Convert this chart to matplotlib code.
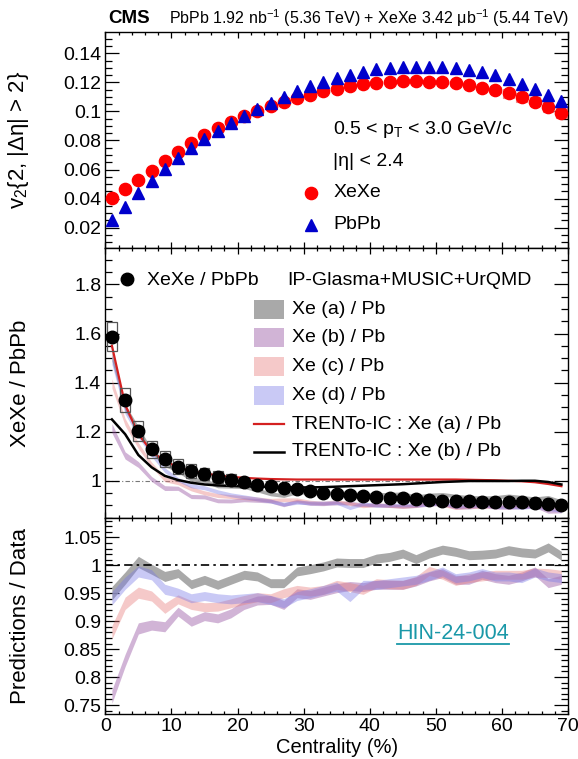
import matplotlib
matplotlib.use("Agg")
import matplotlib.pyplot as plt
import numpy as np
from matplotlib.patches import Rectangle
from matplotlib.ticker import MultipleLocator, FuncFormatter

plt.rcParams.update({
    "font.family": ["Liberation Sans", "DejaVu Sans"],
    "mathtext.fontset": "custom",
    "mathtext.rm": "Liberation Sans",
    "mathtext.it": "Liberation Sans",
    "mathtext.bf": "Liberation Sans:bold",
    "axes.unicode_minus": True,
})

# centrality bin centres (%)
cent = [1, 3, 5, 7, 9, 11, 13, 15, 17, 19, 21, 23, 25, 27, 29, 31, 33, 35,
        37, 39, 41, 43, 45, 47, 49, 51, 53, 55, 57, 59, 61, 63, 65, 67, 69]

# v2{2,|deta|>2}
v2_xexe = [0.0406, 0.0464, 0.0526, 0.0590, 0.0657, 0.0723, 0.0780, 0.0838,
           0.0888, 0.0930, 0.0969, 0.1003, 0.1037, 0.1065, 0.1090, 0.1115,
           0.1138, 0.1157, 0.1173, 0.1187, 0.1198, 0.1203, 0.1207, 0.1207,
           0.1205, 0.1203, 0.1193, 0.1180, 0.1164, 0.1148, 0.1125, 0.1097,
           0.1067, 0.1033, 0.0992]
v2_xexe_sys = [0.001, 0.001, 0.001, 0.001, 0.001, 0.001, 0.001, 0.001, 0.001,
               0.001, 0.001, 0.001, 0.001, 0.001, 0.001, 0.001, 0.001, 0.001,
               0.001, 0.001, 0.001, 0.001, 0.001, 0.001, 0.0015, 0.0015, 0.0015,
               0.002, 0.002, 0.002, 0.003, 0.003, 0.003, 0.0035, 0.0035]
v2_pbpb = [0.0253, 0.0340, 0.0437, 0.0521, 0.0601, 0.0677, 0.0746, 0.0808,
           0.0865, 0.0918, 0.0971, 0.1019, 0.1060, 0.1102, 0.1143, 0.1175,
           0.1205, 0.1230, 0.1251, 0.1274, 0.1290, 0.1299, 0.1304, 0.1308,
           0.1306, 0.1304, 0.1297, 0.1285, 0.1274, 0.1253, 0.1223, 0.1189,
           0.1152, 0.1115, 0.1072]

# XeXe / PbPb ratio
ratio = [1.587, 1.329, 1.202, 1.128, 1.090, 1.057, 1.041, 1.028, 1.015, 1.004,
         0.993, 0.982, 0.978, 0.971, 0.965, 0.958, 0.951, 0.948, 0.944, 0.939,
         0.933, 0.931, 0.928, 0.925, 0.923, 0.919, 0.916, 0.916, 0.914, 0.913,
         0.914, 0.912, 0.908, 0.904, 0.900]
ratio_sys = [0.058, 0.047, 0.040, 0.035, 0.032, 0.030, 0.028, 0.026, 0.024,
             0.022, 0.020, 0.018, 0.017, 0.016, 0.015, 0.015, 0.015, 0.015,
             0.015, 0.015, 0.015, 0.015, 0.015, 0.015, 0.015, 0.015, 0.015,
             0.015, 0.015, 0.015, 0.015, 0.015, 0.015, 0.015, 0.015]

# IP-Glasma+MUSIC+UrQMD predictions / data
pred_a = [0.950, 0.977, 1.006, 0.993, 0.980, 0.986, 0.966, 0.974, 0.965, 0.974,
          0.983, 0.980, 0.968, 0.968, 0.989, 0.993, 0.998, 1.005, 1.004, 1.004,
          1.012, 1.015, 1.021, 1.011, 1.021, 1.028, 1.024, 1.018, 1.019, 1.021,
          1.027, 1.023, 1.021, 1.032, 1.017]
pred_b = [0.765, 0.830, 0.887, 0.893, 0.890, 0.917, 0.899, 0.909, 0.905, 0.914,
          0.929, 0.937, 0.938, 0.929, 0.950, 0.947, 0.953, 0.959, 0.963, 0.961,
          0.965, 0.965, 0.965, 0.971, 0.980, 0.986, 0.974, 0.974, 0.983, 0.977,
          0.974, 0.980, 0.989, 0.968, 0.974]
pred_c = [0.880, 0.932, 0.951, 0.945, 0.923, 0.939, 0.929, 0.925, 0.926, 0.932,
          0.938, 0.943, 0.941, 0.950, 0.956, 0.953, 0.956, 0.965, 0.961, 0.956,
          0.968, 0.966, 0.965, 0.972, 0.990, 0.983, 0.972, 0.977, 0.980, 0.983,
          0.983, 0.983, 0.987, 0.986, 0.983]
pred_d = [0.941, 0.968, 0.989, 0.983, 0.957, 0.951, 0.941, 0.945, 0.941, 0.939,
          0.941, 0.943, 0.938, 0.932, 0.945, 0.950, 0.956, 0.962, 0.943, 0.965,
          0.965, 0.968, 0.971, 0.974, 0.981, 0.989, 0.977, 0.980, 0.986, 0.980,
          0.980, 0.977, 0.987, 0.980, 0.977]
pred_err = [0.012, 0.011, 0.010, 0.009, 0.009, 0.008, 0.008, 0.008, 0.008,
            0.008, 0.008, 0.008, 0.008, 0.008, 0.008, 0.008, 0.008, 0.008,
            0.008, 0.008, 0.008, 0.008, 0.008, 0.008, 0.008, 0.008, 0.008,
            0.008, 0.008, 0.008, 0.008, 0.008, 0.008, 0.008, 0.008]

# TRENTo-IC ratios
trento_a = [1.550, 1.310, 1.190, 1.120, 1.080, 1.055, 1.040, 1.030, 1.022,
            1.016, 1.012, 1.009, 1.007, 1.006, 1.005, 1.005, 1.005, 1.005,
            1.005, 1.005, 1.005, 1.005, 1.005, 1.005, 1.005, 1.005, 1.005,
            1.004, 1.003, 1.002, 1.000, 0.998, 0.994, 0.987, 0.978]
trento_b = [1.250, 1.190, 1.105, 1.055, 1.020, 1.003, 0.992, 0.985, 0.981,
            0.979, 0.977, 0.976, 0.975, 0.974, 0.973, 0.973, 0.974, 0.976,
            0.978, 0.980, 0.982, 0.984, 0.986, 0.989, 0.992, 0.995, 0.997,
            0.999, 0.999, 0.999, 0.999, 1.000, 1.000, 0.995, 0.985]

models = [
    ("Xe (a) / Pb", pred_a, "#9a9a9a", 0.85),
    ("Xe (b) / Pb", pred_b, "#9a5aa6", 0.45),
    ("Xe (c) / Pb", pred_c, "#e67a7a", 0.40),
    ("Xe (d) / Pb", pred_d, "#7878e6", 0.40),
]


def style(ax, ymaj, ymin):
    ax.set_xlim(0, 70)
    ax.xaxis.set_major_locator(MultipleLocator(10))
    ax.xaxis.set_minor_locator(MultipleLocator(2))
    ax.yaxis.set_major_locator(MultipleLocator(ymaj))
    ax.yaxis.set_minor_locator(MultipleLocator(ymin))
    ax.yaxis.set_major_formatter(FuncFormatter(lambda v, _: f"{round(v, 4):g}"))
    ax.tick_params(which="both", direction="in", top=True, right=True,
                   labelsize=14, width=0.9, pad=3)
    ax.tick_params(axis="y", which="major", length=10)
    ax.tick_params(axis="y", which="minor", length=5)
    ax.tick_params(axis="x", which="major", length=4.5)
    ax.tick_params(axis="x", which="minor", length=2.2)
    for s in ax.spines.values():
        s.set_linewidth(1.0)
    ax.yaxis.set_label_coords(-0.16, 0.5)


fig = plt.figure(figsize=(5.78, 7.59), dpi=100)
L, W = 0.1822, 0.8005
ax1 = fig.add_axes([L, 0.6729, W, 0.2850])
ax2 = fig.add_axes([L, 0.3171, W, 0.3557])
ax3 = fig.add_axes([L, 0.0589, W, 0.2582])

x = np.array(cent, dtype=float)
r = np.array(ratio)

# ---- top panel: v2
style(ax1, 0.02, 0.005)
ax1.set_ylim(0.0058, 0.1547)
for xi, yi, si in zip(cent, v2_xexe, v2_xexe_sys):
    ax1.add_patch(Rectangle((xi - 0.8, yi - si), 1.6, 2 * si, fill=False,
                            ec="#f08a8a", lw=0.8, zorder=2))
ax1.plot(cent, v2_xexe, "o", color="#ff0000", ms=8.8, mec="#ff0000", zorder=3)
ax1.plot(cent, v2_pbpb, "^", color="#0000cc", ms=9, zorder=4)
ax1.set_ylabel(r"v$_2${2, |Δη| > 2}", fontsize=16)
ax1.tick_params(labelbottom=False)
ax1.text(0.493, 0.550, r"0.5 < p$_{\rm T}$ < 3.0 GeV/c", transform=ax1.transAxes,
         fontsize=14, va="center")
ax1.text(0.493, 0.400, "|η| < 2.4", transform=ax1.transAxes, fontsize=14,
         va="center")
ax1.plot(0.444, 0.256, "o", color="#ff0000", ms=8.8, transform=ax1.transAxes)
ax1.text(0.493, 0.256, "XeXe", transform=ax1.transAxes, fontsize=14, va="center")
ax1.plot(0.444, 0.108, "^", color="#0000cc", ms=9, transform=ax1.transAxes)
ax1.text(0.493, 0.108, "PbPb", transform=ax1.transAxes, fontsize=14, va="center")

# ---- middle panel: XeXe / PbPb
style(ax2, 0.2, 0.05)
ax2.set_ylim(0.847, 1.947)
ax2.axhline(1.0, color="#777777", lw=0.8, ls=(0, (4, 2, 1, 2)), zorder=1)
for name, pr, col, al in models:
    mid = r * np.array(pr)
    half = r * np.array(pred_err)
    ax2.fill_between(x, mid - half, mid + half, color=col, alpha=al, lw=0, zorder=2)
ax2.plot(cent, trento_a, color="#d42020", lw=1.6, zorder=4)
ax2.plot(cent, trento_b, color="black", lw=1.8, zorder=4)
for xi, yi, si in zip(cent, ratio, ratio_sys):
    ax2.add_patch(Rectangle((xi - 0.75, yi - si), 1.5, 2 * si, fill=False,
                            ec="#555555", lw=0.9, zorder=5))
ax2.plot(cent, ratio, "o", color="black", ms=9, zorder=6)
ax2.set_ylabel("XeXe / PbPb", fontsize=16)
ax2.tick_params(labelbottom=False)

# legend of the middle panel
ax2.plot(0.046, 0.885, "o", color="black", ms=9, transform=ax2.transAxes)
ax2.text(0.090, 0.880, "XeXe / PbPb", transform=ax2.transAxes, fontsize=14,
         va="center")
ax2.text(0.394, 0.880, "IP-Glasma+MUSIC+UrQMD", transform=ax2.transAxes,
         fontsize=14, va="center")
leg_y = [0.774, 0.669, 0.561, 0.455, 0.349, 0.246]
for (name, pr, col, al), yy in zip(models, leg_y[:4]):
    ax2.add_patch(Rectangle((0.3205, yy - 0.035), 0.0653, 0.07, color=col,
                            alpha=al, lw=0, transform=ax2.transAxes))
    ax2.text(0.404, yy, name, transform=ax2.transAxes, fontsize=14, va="center")
ax2.plot([0.3205, 0.3858], [leg_y[4]] * 2, color="#d42020", lw=1.6,
         transform=ax2.transAxes)
ax2.text(0.404, leg_y[4], "TRENTo-IC : Xe (a) / Pb", transform=ax2.transAxes,
         fontsize=14, va="center")
ax2.plot([0.3205, 0.3858], [leg_y[5]] * 2, color="black", lw=1.8,
         transform=ax2.transAxes)
ax2.text(0.404, leg_y[5], "TRENTo-IC : Xe (b) / Pb", transform=ax2.transAxes,
         fontsize=14, va="center")

# ---- bottom panel: predictions / data
style(ax3, 0.05, 0.01)
ax3.set_ylim(0.7334, 1.084)
for name, pr, col, al in models:
    pr = np.array(pr)
    e = np.array(pred_err)
    ax3.fill_between(x, pr - e, pr + e, color=col, alpha=al, lw=0, zorder=2)
ax3.axhline(1.0, color="black", lw=1.2, ls=(0, (5, 2.5, 1.5, 2.5)), zorder=5)
ax3.set_ylabel("Predictions / Data", fontsize=16)
ax3.set_xlabel("Centrality (%)", fontsize=14.5, labelpad=2)
ax3.text(0.631, 0.41, "HIN-24-004", transform=ax3.transAxes, fontsize=15.5,
         color="#1a98a8", va="center")
ax3.plot([0.631, 0.872], [0.357, 0.357], color="#1a98a8", lw=1.3,
         transform=ax3.transAxes)

# header
fig.text(0.187, 0.976, "CMS", fontsize=13.5, fontweight="bold", va="center")
fig.text(0.985, 0.976,
         r"PbPb 1.92 nb$^{-1}$ (5.36 TeV) + XeXe 3.42 μb$^{-1}$ (5.44 TeV)",
         fontsize=11.5, ha="right", va="center")

fig.savefig("out.png", dpi=100)
